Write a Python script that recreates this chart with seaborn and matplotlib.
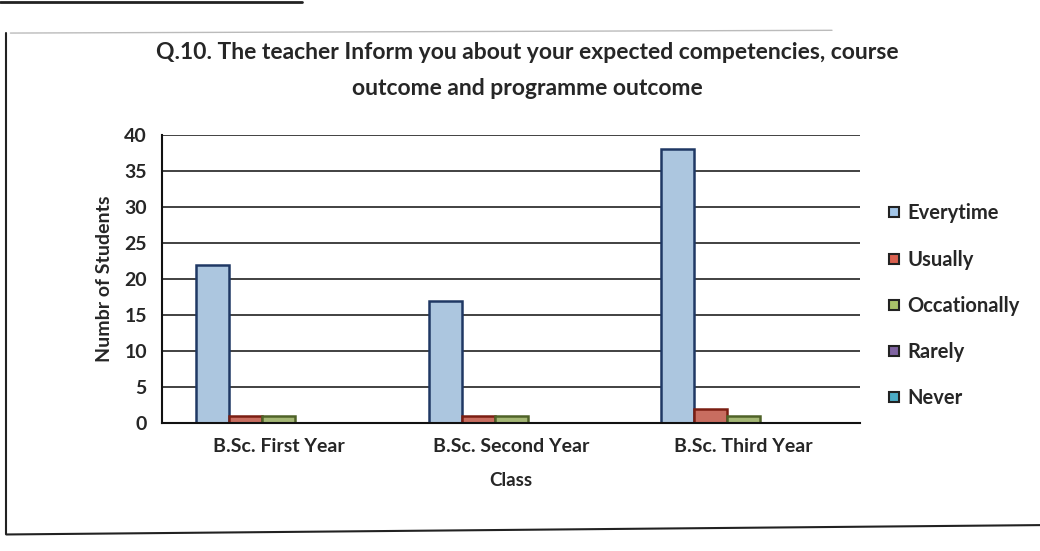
import pandas as pd
import matplotlib.pyplot as plt
import matplotlib.lines as mlines
import seaborn as sns

# Dados
classes = ['B.Sc. First Year', 'B.Sc. Second Year', 'B.Sc. Third Year']
respostas = ['Everytime', 'Usually', 'Occationally', 'Rarely', 'Never']
everytime = [22, 17, 38]
usually = [1, 1, 2]
occationally = [1, 1, 1]
rarely = [0, 0, 0]
never = [0, 0, 0]

cores = ['#A3C6E8', '#D9604F', '#A9C26A', '#8064A2', '#4BACC6']
bordas = ['#1F3864', '#7B1E12', '#4F6228', '#3F3151', '#205867']

valores = [everytime, usually, occationally, rarely, never]
df = pd.DataFrame({
    'Class': [c for _ in respostas for c in classes],
    'Resposta': [r for r in respostas for _ in classes],
    'Alunos': [v for serie in valores for v in serie],
})

sns.set_style('white')
plt.rcParams['font.family'] = ['Lato', 'DejaVu Sans']

fig = plt.figure(figsize=(10.4, 5.51), dpi=100)
ax = fig.add_axes([0.156, 0.232, 0.671, 0.523])

sns.barplot(data=df, x='Class', y='Alunos', hue='Resposta', hue_order=respostas,
            palette=cores, width=0.71, ax=ax, legend=False, linewidth=0)

# bordas das barras por série
for cont, borda in zip(ax.containers, bordas):
    for p in cont:
        if p.get_height() > 0:
            p.set_edgecolor(borda)
            p.set_linewidth(1.8)

ax.set_ylim(0, 40)
ax.set_yticks(range(0, 41, 5))
ax.yaxis.grid(True, color='#333333', linewidth=1.3)
ax.set_axisbelow(True)
for s in ['top', 'right']:
    ax.spines[s].set_visible(False)
ax.spines['left'].set_color('#111111')
ax.spines['bottom'].set_color('#111111')
ax.spines['left'].set_linewidth(1.5)
ax.spines['bottom'].set_linewidth(1.5)
ax.tick_params(axis='y', direction='inout', length=8, width=1.2, labelsize=14, pad=7)
ax.tick_params(axis='x', length=0, labelsize=14, pad=11)
for t in ax.get_xticklabels() + ax.get_yticklabels():
    t.set_fontweight('bold')

ax.set_xlabel('Class', fontsize=13.5, fontweight='bold', labelpad=12)
ax.set_ylabel('Numbr of Students', fontsize=14, fontweight='bold', labelpad=8)

fig.text(0.507, 0.905, 'Q.10. The teacher Inform you about your expected competencies, course',
         ha='center', va='center', fontsize=16.5, fontweight='bold')
fig.text(0.507, 0.84, 'outcome and programme outcome',
         ha='center', va='center', fontsize=16.5, fontweight='bold')

# legenda à direita
handles = [mlines.Line2D([], [], marker='s', linestyle='none', markersize=7,
                         markerfacecolor=c, markeredgecolor='#222222', markeredgewidth=1.5)
           for c in cores]
fig.legend(handles, respostas, loc='center left', bbox_to_anchor=(0.834, 0.445),
           frameon=False, labelspacing=1.3, handletextpad=0.3,
           handlelength=0.8, prop={'weight': 'bold', 'size': 14.5})

# moldura da área do gráfico
fig.add_artist(mlines.Line2D([0.006, 0.006], [0.03, 0.94], color='#222222', lw=1.5))
fig.add_artist(mlines.Line2D([0.006, 1.0], [0.03, 0.047], color='#222222', lw=1.5))
fig.add_artist(mlines.Line2D([0.01, 0.8], [0.94, 0.945], color='#bbbbbb', lw=1))
fig.add_artist(mlines.Line2D([0.0, 0.29], [0.997, 0.997], color='#222222', lw=2))

fig.savefig('out.png', dpi=100, facecolor='white')
